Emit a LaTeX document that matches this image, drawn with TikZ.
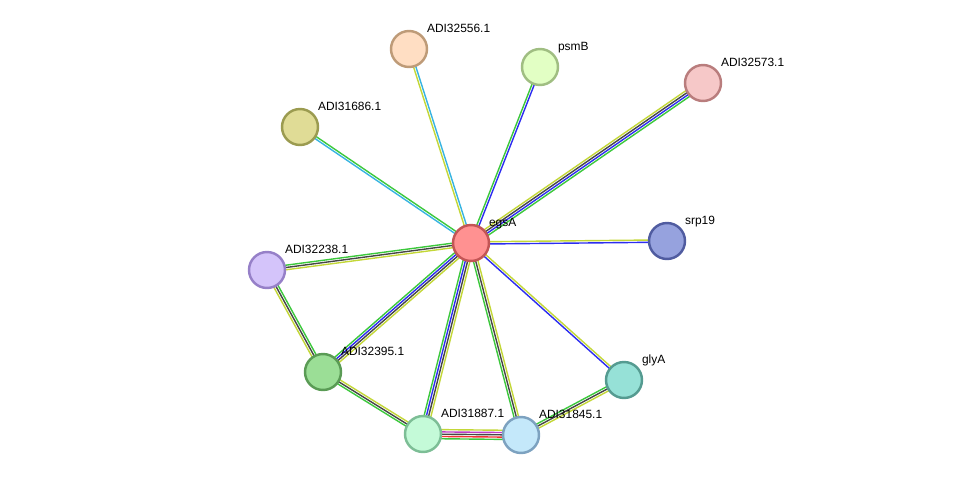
\documentclass[tikz,border=0pt]{standalone}
\usepackage{fontspec}
\setmainfont{Liberation Sans}
\usetikzlibrary{calc,backgrounds}

\definecolor{cnbr}{RGB}{60,200,60}
\definecolor{ccoo}{RGB}{45,45,240}
\definecolor{ccex}{RGB}{70,70,70}
\definecolor{ctxm}{RGB}{195,215,55}
\definecolor{cdbs}{RGB}{55,180,225}
\definecolor{cexpt}{RGB}{190,60,200}
\definecolor{cfus}{RGB}{240,50,50}

\tikzset{
  prot/.style={circle,draw,line width=1.4pt,minimum size=0.72cm,inner sep=0pt},
  lbl/.style={anchor=base west,label distance=0.1cm,inner sep=0pt,font=\fontsize{6.8}{8}\selectfont},
  nbr/.style={cnbr,line width=0.8pt},
  coo/.style={ccoo,line width=0.8pt},
  cex/.style={ccex,line width=0.8pt},
  txm/.style={ctxm,line width=0.8pt},
  dbs/.style={cdbs,line width=0.8pt},
  expt/.style={cexpt,line width=0.8pt},
  fus/.style={cfus,line width=0.8pt}
}

% one coloured line per evidence channel, side by side
\newcommand{\evid}[3]{\foreach \col/\off in {#3}
  \draw[\col] ($(#1.center)!\off!90:(#2.center)$) -- ($(#2.center)!\off!-90:(#1.center)$);}

\begin{document}
\begin{tikzpicture}[x=0.02cm,y=-0.02cm]
  \useasboundingbox (0,0) rectangle (975,481);
  \node[prot,fill={rgb,255:red,255;green,145;blue,145},draw={rgb,255:red,195;green,85;blue,85},label={[lbl]43:egsA}] (egsA) at (471,243) {};
  \node[prot,fill={rgb,255:red,255;green,222;blue,195},draw={rgb,255:red,190;green,155;blue,120},label={[lbl]43:ADI32556.1}] (a32556) at (409,49) {};
  \node[prot,fill={rgb,255:red,226;green,255;blue,196},draw={rgb,255:red,160;green,190;blue,130},label={[lbl]43:psmB}] (psmB) at (540,67) {};
  \node[prot,fill={rgb,255:red,246;green,200;blue,200},draw={rgb,255:red,185;green,125;blue,125},label={[lbl]43:ADI32573.1}] (a32573) at (703,83) {};
  \node[prot,fill={rgb,255:red,224;green,220;blue,150},draw={rgb,255:red,155;green,155;blue,80},label={[lbl]43:ADI31686.1}] (a31686) at (300,127) {};
  \node[prot,fill={rgb,255:red,150;green,162;blue,222},draw={rgb,255:red,80;green,92;blue,160},label={[lbl]43:srp19}] (srp19) at (667,241) {};
  \node[prot,fill={rgb,255:red,212;green,196;blue,250},draw={rgb,255:red,150;green,128;blue,200},label={[lbl]43:ADI32238.1}] (a32238) at (267,270) {};
  \node[prot,fill={rgb,255:red,155;green,222;blue,150},draw={rgb,255:red,90;green,155;blue,85},label={[lbl]43:ADI32395.1}] (a32395) at (323,372) {};
  \node[prot,fill={rgb,255:red,150;green,225;blue,215},draw={rgb,255:red,85;green,155;blue,145},label={[lbl]43:glyA}] (glyA) at (624,380) {};
  \node[prot,fill={rgb,255:red,196;green,250;blue,216},draw={rgb,255:red,125;green,190;blue,150},label={[lbl]43:ADI31887.1}] (a31887) at (423,434) {};
  \node[prot,fill={rgb,255:red,196;green,232;blue,250},draw={rgb,255:red,125;green,162;blue,192},label={[lbl]43:ADI31845.1}] (a31845) at (521,435) {};

  \begin{pgfonlayer}{background}
    \evid{egsA}{a32556}{txm/0.65pt,dbs/-0.65pt}
    \evid{egsA}{psmB}{nbr/0.65pt,coo/-0.65pt}
    \evid{egsA}{a32573}{txm/1.95pt,cex/0.65pt,coo/-0.65pt,nbr/-1.95pt}
    \evid{egsA}{a31686}{dbs/0.65pt,nbr/-0.65pt}
    \evid{egsA}{srp19}{txm/0.65pt,coo/-0.65pt}
    \evid{egsA}{glyA}{txm/0.65pt,coo/-0.65pt}
    \evid{egsA}{a32238}{txm/1.3pt,cex/0pt,nbr/-1.3pt}
    \evid{egsA}{a32395}{txm/1.95pt,cex/0.65pt,coo/-0.65pt,nbr/-1.95pt}
    \evid{egsA}{a31887}{txm/1.95pt,cex/0.65pt,coo/-0.65pt,nbr/-1.95pt}
    \evid{egsA}{a31845}{txm/1.3pt,cex/0pt,nbr/-1.3pt}
    \evid{a32238}{a32395}{nbr/1.3pt,cex/0pt,txm/-1.3pt}
    \evid{a32395}{a31887}{txm/1.3pt,cex/0pt,nbr/-1.3pt}
    \evid{a31887}{a31845}{txm/2.6pt,expt/1.3pt,cex/0pt,fus/-1.3pt,nbr/-2.6pt}
    \evid{a31845}{glyA}{nbr/1.3pt,cex/0pt,txm/-1.3pt}
  \end{pgfonlayer}
\end{tikzpicture}
\end{document}
